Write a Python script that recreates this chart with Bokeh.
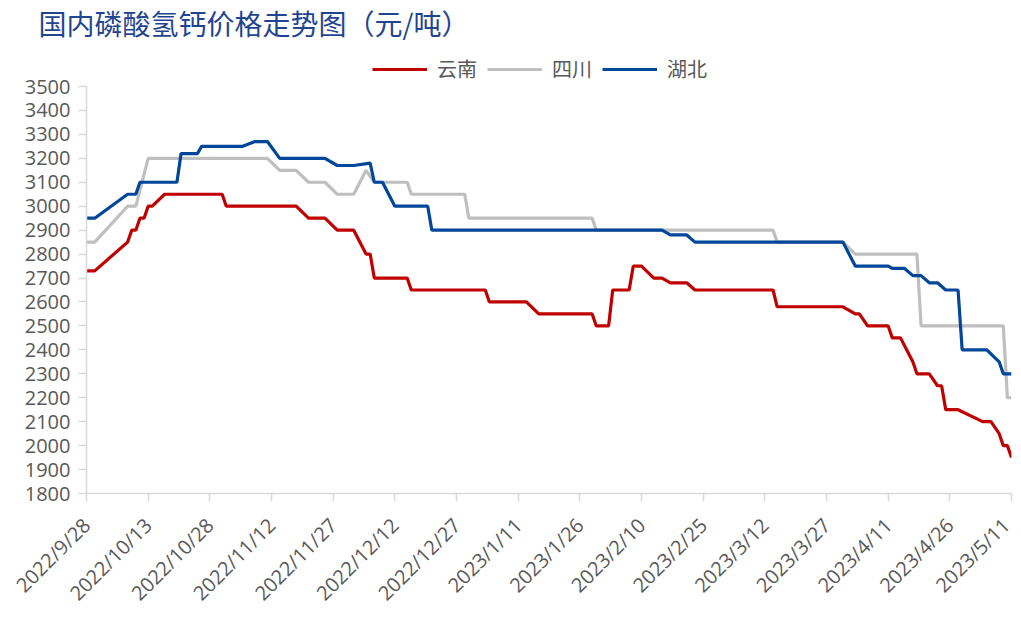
import math
import pandas as pd
from bokeh.plotting import figure
from bokeh.models import FixedTicker, Legend, LegendItem, Range1d
from bokeh.embed import file_html
from bokeh.resources import INLINE

START = "2022-09-28"
tick_labels = ["2022/9/28", "2022/10/13", "2022/10/28", "2022/11/12", "2022/11/27",
               "2022/12/12", "2022/12/27", "2023/1/11", "2023/1/26", "2023/2/10",
               "2023/2/25", "2023/3/12", "2023/3/27", "2023/4/11", "2023/4/26", "2023/5/11"]
y_ticks = list(range(1800, 3600, 100))

yunnan_dates = ["2022-09-28", "2022-09-30", "2022-10-08", "2022-10-09", "2022-10-10", "2022-10-11",
                "2022-10-12", "2022-10-13", "2022-10-14", "2022-10-17", "2022-10-31", "2022-11-01",
                "2022-11-18", "2022-11-21", "2022-11-25", "2022-11-28", "2022-12-02", "2022-12-05",
                "2022-12-06", "2022-12-07", "2022-12-15", "2022-12-16", "2023-01-03", "2023-01-04",
                "2023-01-13", "2023-01-16", "2023-01-29", "2023-01-30", "2023-02-02", "2023-02-03",
                "2023-02-07", "2023-02-08", "2023-02-10", "2023-02-13", "2023-02-15", "2023-02-17",
                "2023-02-21", "2023-02-23", "2023-03-14", "2023-03-15", "2023-03-31", "2023-04-03",
                "2023-04-04", "2023-04-06", "2023-04-11", "2023-04-12", "2023-04-14", "2023-04-17",
                "2023-04-18", "2023-04-21", "2023-04-23", "2023-04-24", "2023-04-25", "2023-04-28",
                "2023-05-04", "2023-05-06", "2023-05-08", "2023-05-09", "2023-05-10", "2023-05-11"]
yunnan_values = [2730, 2730, 2850, 2900, 2900, 2950,
                 2950, 3000, 3000, 3050, 3050, 3000,
                 3000, 2950, 2950, 2900, 2900, 2800,
                 2800, 2700, 2700, 2650, 2650, 2600,
                 2600, 2550, 2550, 2500, 2500, 2650,
                 2650, 2750, 2750, 2700, 2700, 2680,
                 2680, 2650, 2650, 2580, 2580, 2550,
                 2550, 2500, 2500, 2450, 2450, 2350,
                 2300, 2300, 2250, 2250, 2150, 2150,
                 2100, 2100, 2050, 2000, 2000, 1950]

sichuan_dates = ["2022-09-28", "2022-09-30", "2022-10-08", "2022-10-10", "2022-10-13", "2022-11-11",
                 "2022-11-14", "2022-11-18", "2022-11-21", "2022-11-25", "2022-11-28", "2022-12-02",
                 "2022-12-05", "2022-12-07", "2022-12-15", "2022-12-16", "2022-12-29", "2022-12-30",
                 "2023-01-29", "2023-01-30", "2023-03-14", "2023-03-15", "2023-03-31", "2023-04-03",
                 "2023-04-18", "2023-04-19", "2023-05-09", "2023-05-10", "2023-05-11"]
sichuan_values = [2850, 2850, 3000, 3000, 3200, 3200,
                  3150, 3150, 3100, 3100, 3050, 3050,
                  3150, 3100, 3100, 3050, 3050, 2950,
                  2950, 2900, 2900, 2850, 2850, 2800,
                  2800, 2500, 2500, 2200, 2200]

hubei_dates = ["2022-09-28", "2022-09-30", "2022-10-08", "2022-10-10", "2022-10-11", "2022-10-20",
               "2022-10-21", "2022-10-25", "2022-10-26", "2022-11-05", "2022-11-08", "2022-11-11",
               "2022-11-14", "2022-11-25", "2022-11-28", "2022-12-02", "2022-12-06", "2022-12-07",
               "2022-12-09", "2022-12-12", "2022-12-20", "2022-12-21", "2023-02-15", "2023-02-17",
               "2023-02-21", "2023-02-23", "2023-03-31", "2023-04-03", "2023-04-11", "2023-04-12",
               "2023-04-15", "2023-04-17", "2023-04-19", "2023-04-21", "2023-04-23", "2023-04-25",
               "2023-04-28", "2023-04-29", "2023-05-05", "2023-05-08", "2023-05-09", "2023-05-11"]
hubei_values = [2950, 2950, 3050, 3050, 3100, 3100,
                3220, 3220, 3250, 3250, 3270, 3270,
                3200, 3200, 3170, 3170, 3180, 3100,
                3100, 3000, 3000, 2900, 2900, 2880,
                2880, 2850, 2850, 2750, 2750, 2740,
                2740, 2710, 2710, 2680, 2680, 2650,
                2650, 2400, 2400, 2350, 2300, 2300]

start = pd.Timestamp(START)


def to_days(dates):
    return [(pd.Timestamp(d) - start).days for d in dates]


tick_days = [(pd.Timestamp(t.replace("/", "-")) - start).days for t in tick_labels]

FRAME_TOP = 42
Y_TOP = 3500 + (86 - FRAME_TOP) * 1700 / 407

p = figure(width=1015, height=618, output_backend="svg", toolbar_location=None,
           x_range=Range1d(0, 225), y_range=Range1d(1800, Y_TOP),
           min_border_left=86, min_border_right=4, min_border_top=0, min_border_bottom=125,
           background_fill_color="white", border_fill_color="white",
           title="国内磷酸氢钙价格走势图（元/吨）")
p.title.text_font = "Noto Sans CJK SC"
p.title.text_font_size = "28px"
p.title.text_font_style = "normal"
p.title.text_color = "#1F4591"
p.title.align = "left"
p.title.offset = -48
p.title.standoff = 0

p.outline_line_color = None
p.xgrid.visible = False
p.ygrid.visible = False

AX = "#D9D9D9"
LBL = "#595959"
FONT = "Open Sans"
for ax in (p.xaxis[0], p.yaxis[0]):
    ax.axis_line_color = AX
    ax.axis_line_width = 1.5
    ax.major_tick_line_color = AX
    ax.major_tick_line_width = 1.5
    ax.major_tick_out = 8
    ax.major_tick_in = 0
    ax.minor_tick_line_color = None
    ax.major_label_text_color = LBL
    ax.major_label_text_font = FONT
    ax.major_label_text_font_size = "20px"

p.yaxis.ticker = FixedTicker(ticks=y_ticks)
p.yaxis.bounds = (1800, 3500)
p.yaxis.major_label_standoff = 8
p.xaxis.ticker = FixedTicker(ticks=tick_days)
p.xaxis.major_label_overrides = {d: t for d, t in zip(tick_days, tick_labels)}
p.xaxis.major_label_orientation = math.pi / 4
p.xaxis.major_label_standoff = 20

r_yn = p.line(to_days(yunnan_dates), yunnan_values, line_color="#C00000", line_width=3.2)
r_sc = p.line(to_days(sichuan_dates), sichuan_values, line_color="#BFBFBF", line_width=3.2)
r_hb = p.line(to_days(hubei_dates), hubei_values, line_color="#00469B", line_width=3.2)

legend = Legend(items=[LegendItem(label="云南", renderers=[r_yn]),
                       LegendItem(label="四川", renderers=[r_sc]),
                       LegendItem(label="湖北", renderers=[r_hb])],
                orientation="horizontal", location=(286, 410),
                border_line_color=None, background_fill_alpha=0,
                glyph_width=55, glyph_height=20, label_height=20,
                label_text_font="Noto Sans CJK SC", label_text_font_size="20px",
                label_text_color=LBL, label_standoff=10, spacing=10,
                padding=0, margin=0)
p.add_layout(legend, "center")

open("out.html", "w").write(file_html(p, INLINE))
